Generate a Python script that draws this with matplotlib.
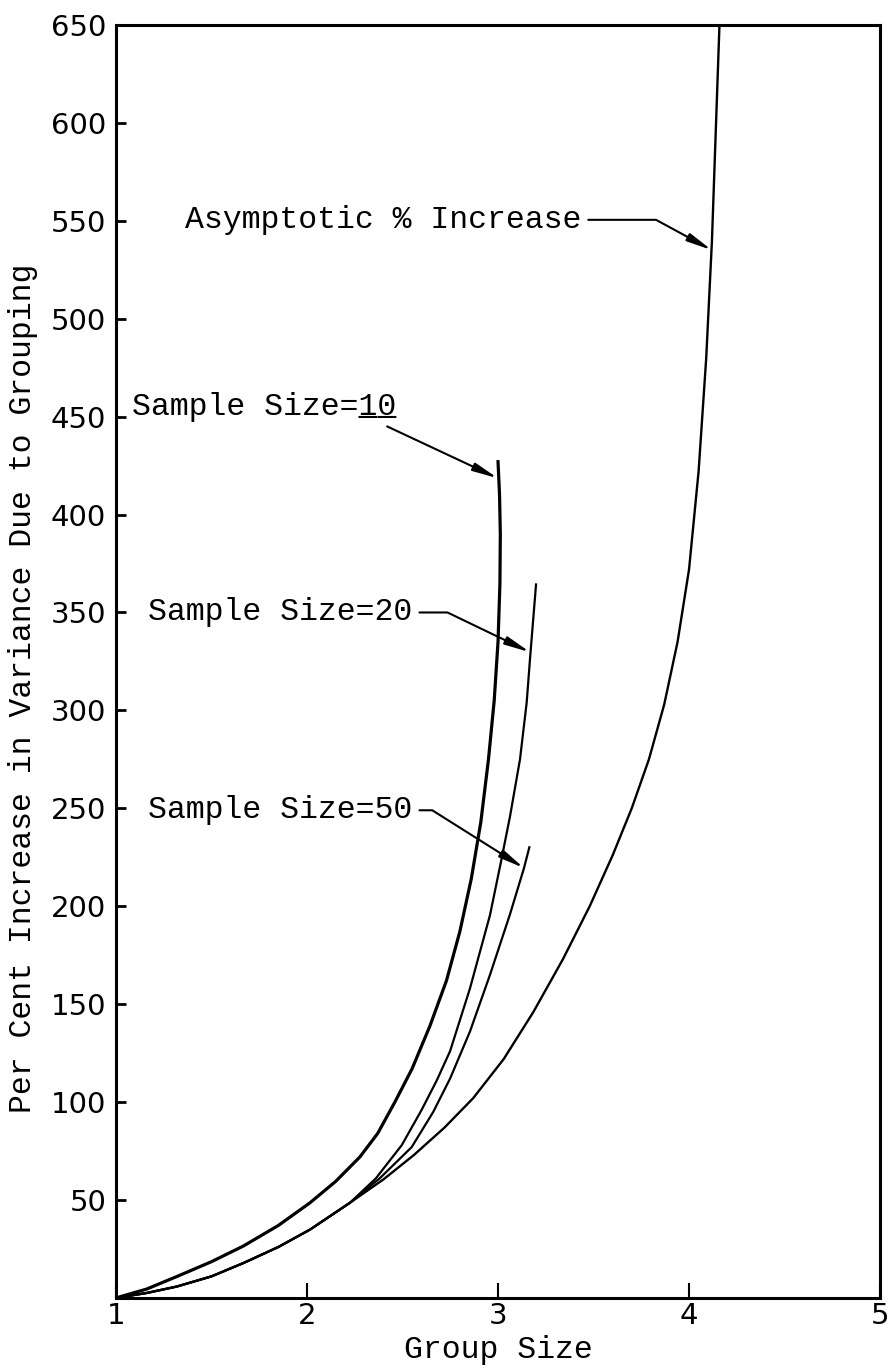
import matplotlib
matplotlib.use("Agg")
import matplotlib.pyplot as plt

plt.rcParams["font.family"] = "Liberation Mono"

# curves (group size, % increase)
asym_x = [1.0, 1.16, 1.318, 1.5, 1.667, 1.85, 2.016, 2.225, 2.40, 2.56, 2.72, 2.87,
          3.03, 3.185, 3.34, 3.48, 3.60, 3.70, 3.79, 3.87, 3.94, 4.0, 4.05, 4.09,
          4.12, 4.16]
asym_y = [0, 2.5, 5.8, 11, 17.8, 26, 34.9, 48.6, 60.5, 73, 87, 102,
          122, 146, 173, 200, 226, 250, 275, 303, 335, 372, 422, 480,
          540, 652]

n10_x = [1.0, 1.16, 1.318, 1.5, 1.667, 1.85, 2.016, 2.15, 2.277, 2.37, 2.46, 2.55,
         2.644, 2.73, 2.80, 2.86, 2.91, 2.95, 2.98, 3.0, 3.01, 3.012, 3.008, 3.0]
n10_y = [0, 4.5, 10.9, 18.5, 26.5, 37, 48.6, 59.5, 72, 84, 100, 117,
         139, 162, 187, 214, 243, 275, 305, 335, 365, 390, 410, 427]

n20_x = [1.0, 1.16, 1.318, 1.5, 1.667, 1.85, 2.016, 2.225, 2.36, 2.496, 2.6, 2.679,
         2.749, 2.853, 2.958, 3.014, 3.063, 3.115, 3.15, 3.168, 3.199]
n20_y = [0, 2.5, 5.8, 11, 17.8, 26, 34.9, 48.6, 61, 78, 96, 111,
         126, 158, 195.5, 222, 246, 275, 304, 327, 364.3]

n50_x = [1.0, 1.16, 1.318, 1.5, 1.667, 1.85, 2.016, 2.225, 2.38, 2.548, 2.661, 2.749,
         2.853, 2.958, 3.063, 3.136, 3.164]
n50_y = [0, 2.5, 5.8, 11, 17.8, 26, 34.9, 48.6, 61, 77, 95, 112,
         136, 165, 196, 219.5, 230.1]

yticks = list(range(50, 651, 50))
xticks = [1, 2, 3, 4, 5]

fig = plt.figure(figsize=(8.95, 13.72), dpi=100)
ax = fig.add_axes([0.1296, 0.054, 0.8537, 0.9278])

ax.plot(asym_x, asym_y, color="black", lw=1.7, solid_joinstyle="round")
ax.plot(n10_x, n10_y, color="black", lw=2.3, solid_joinstyle="round")
ax.plot(n20_x, n20_y, color="black", lw=1.6, solid_joinstyle="round")
ax.plot(n50_x, n50_y, color="black", lw=1.6, solid_joinstyle="round")

ax.set_xlim(1, 5)
ax.set_ylim(0, 650)
ax.set_xticks(xticks)
ax.set_yticks(yticks)
for s in ax.spines.values():
    s.set_linewidth(2.2)
ax.tick_params(axis="y", direction="in", length=7, width=2, pad=7)
ax.tick_params(axis="x", direction="in", length=11, width=1.5, pad=3)
for lab in ax.get_xticklabels() + ax.get_yticklabels():
    lab.set_fontfamily("DejaVu Sans")
    lab.set_fontsize(21)

ax.set_ylabel("Per Cent Increase in Variance Due to Grouping", fontsize=22.7)
ax.yaxis.set_label_coords(-0.122, 0.479)
ax.yaxis.label.set_verticalalignment("center")
ax.set_xlabel("Group Size", fontsize=22.7)
ax.xaxis.set_label_coords(0.5, -0.041)
ax.xaxis.label.set_verticalalignment("center")

arrow = dict(arrowstyle="-|>,head_length=1.5,head_width=0.25", mutation_scale=10,
             color="black", lw=1.5, shrinkA=3, shrinkB=0)

ax.annotate("Asymptotic % Increase", xy=(4.12, 535), xytext=(1.361, 550.5),
            ha="left", va="center", fontsize=22.7,
            arrowprops=dict(arrow, relpos=(1, 0.5),
                            connectionstyle="angle,angleA=0,angleB=151.5,rad=0"))
ax.annotate("Sample Size=10", xy=(3.0, 418.5),
            xytext=(1.082, 455), ha="left", va="center", fontsize=22.7,
            arrowprops=dict(arrow, relpos=(0.93, 0.0)))
# typed underline under the "10"
ax.text(1.082, 455, "            __", ha="left", va="center", fontsize=22.7)
ax.annotate("Sample Size=20", xy=(3.168, 329.7), xytext=(1.169, 350),
            ha="left", va="center", fontsize=22.7,
            arrowprops=dict(arrow, relpos=(1, 0.5),
                            connectionstyle="angle,angleA=0,angleB=154.3,rad=0"))
ax.annotate("Sample Size=50", xy=(3.136, 219.5), xytext=(1.169, 249),
            ha="left", va="center", fontsize=22.7,
            arrowprops=dict(arrow, relpos=(1, 0.5),
                            connectionstyle="angle,angleA=0,angleB=147.8,rad=0"))

fig.savefig("out.png", dpi=100)
